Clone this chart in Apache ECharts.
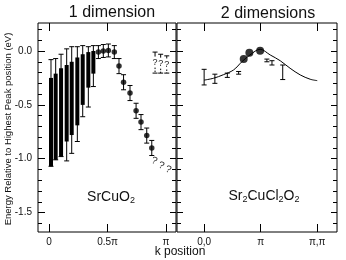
<!DOCTYPE html>
<html>
<head>
<meta charset="utf-8">
<script src="https://cdn.jsdelivr.net/npm/echarts@6/dist/echarts.min.js"></script>
<style>
  html, body { margin: 0; padding: 0; background: #fff; }
  #chart { width: 346px; height: 260px; }
</style>
</head>
<body>
<div id="chart"></div>
<script>
// ---- data ----
// left panel (1D, SrCuO2), k in units of pi
const barK = [0.017, 0.057, 0.103, 0.151, 0.194, 0.242, 0.288, 0.336, 0.379];
const barErrTop = [-0.08, -0.07, -0.03, 0.02, 0.04, 0.04, 0.05, 0.04, 0.05];
const barTop = [-0.25, -0.21, -0.16, -0.13, -0.10, -0.06, -0.03, -0.01, 0.0];
const barBottom = [-1.07, -1.01, -0.98, -0.84, -0.78, -0.69, -0.50, -0.34, -0.21];
const barErrBottom = [-1.07, -1.01, -0.98, -1.02, -0.95, -0.84, -0.61, -0.52, -0.33];

const dotK = [0.422, 0.464, 0.507, 0.558, 0.598, 0.637, 0.692, 0.744, 0.786, 0.835, 0.878];
const dotE = [-0.01, 0.0, 0.005, -0.01, -0.14, -0.29, -0.39, -0.555, -0.66, -0.785, -0.9];
const dotLow = [-0.07, -0.06, -0.055, -0.07, -0.21, -0.36, -0.46, -0.625, -0.73, -0.855, -0.97];
const dotHigh = [0.05, 0.06, 0.065, 0.05, -0.07, -0.22, -0.32, -0.485, -0.59, -0.715, -0.83];

const qK = [0.906, 0.954, 1.006];
const qHigh = [-0.01, -0.03, -0.045];
const qLow = [-0.205, -0.205, -0.205];

const tailK = [0.9, 0.96, 1.02];
const tailE = [-1.02, -1.065, -1.1];

// right panel (2D, Sr2CuCl2O2), 0 = (0,0), 1 = pi, 2 = (pi,pi)
const curveK = [0, 0.165, 0.34, 0.52, 0.667, 0.81, 0.99, 1.17, 1.345, 1.52, 1.7, 1.876, 2.0];
const curveE = [-0.27, -0.253, -0.22, -0.176, -0.1, -0.037, 0.016, -0.037, -0.09, -0.16, -0.222, -0.262, -0.275];
const bigK = [0.70, 0.80, 0.99];
const bigE = [-0.074, -0.015, 0.003];
const ebK = [0.0, 0.19, 0.41, 0.61, 1.11, 1.2, 1.39];
const ebLow = [-0.315, -0.30, -0.245, -0.215, -0.10, -0.13, -0.265];
const ebHigh = [-0.17, -0.215, -0.205, -0.19, -0.075, -0.09, -0.13];

// tick labels
const yMajor = [0, -0.5, -1.0, -1.5];
const yMinor = [0.2, 0.1, -0.1, -0.2, -0.3, -0.4, -0.6, -0.7, -0.8, -0.9, -1.1, -1.2, -1.3, -1.4, -1.6];
const xTicks1 = [0, 0.5, 1];
const xLabels1 = ['0', '0.5π', 'π'];
const xTicks2 = [0, 1, 2];
const xLabels2 = ['0,0', 'π', 'π,π'];

const FONT = 'Liberation Sans, Arial, sans-serif';
const chart = echarts.init(document.getElementById('chart'));

const xAx = (grid, pos, min, max, ticks, labels) => ({
  type: 'value', gridIndex: grid, position: pos, min: min, max: max,
  splitLine: { show: false }, axisLine: { show: false, onZero: false },
  axisTick: { show: true, inside: true, length: 8, customValues: ticks, lineStyle: { color: '#000' } },
  axisLabel: labels ? {
    show: true, customValues: ticks, margin: 5, color: '#111', fontSize: 10, fontFamily: FONT,
    formatter: (v) => labels[ticks.indexOf(v)]
  } : { show: false }
})
const yAx = (grid, pos, ticks, len, withLabel) => ({
  type: 'value', gridIndex: grid, position: pos, min: -1.68, max: 0.26,
  splitLine: { show: false }, axisLine: { show: false, onZero: false },
  axisTick: { show: true, inside: true, length: len, customValues: ticks, lineStyle: { color: '#000' } },
  axisLabel: withLabel ? {
    show: true, customValues: ticks, margin: 6, color: '#111', fontSize: 10, fontFamily: FONT,
    formatter: (v) => v.toFixed(1)
  } : { show: false }
})

// thick bar with thin error line
const renderBar = (params, api) => {
  const x = api.value(0)
  const a = api.coord([x, api.value(1)])
  const b = api.coord([x, api.value(2)])
  const c = api.coord([x, api.value(3)])
  const d = api.coord([x, api.value(4)])
  const st = { stroke: '#000', lineWidth: 1 }
  return {
    type: 'group',
    children: [
      { type: 'line', shape: { x1: a[0], y1: a[1], x2: d[0], y2: d[1] }, style: st },
      { type: 'line', shape: { x1: a[0] - 2.5, y1: a[1], x2: a[0] + 2.5, y2: a[1] }, style: st },
      { type: 'line', shape: { x1: d[0] - 2.5, y1: d[1], x2: d[0] + 2.5, y2: d[1] }, style: st },
      { type: 'rect', shape: { x: b[0] - 2, y: b[1], width: 4, height: c[1] - b[1] }, style: { fill: '#000' } }
    ]
  }
}
const renderErr = (params, api) => {
  const x = api.value(0)
  const lo = api.coord([x, api.value(1)])
  const hi = api.coord([x, api.value(2)])
  const st = { stroke: '#000', lineWidth: 1 }
  return {
    type: 'group',
    children: [
      { type: 'line', shape: { x1: lo[0], y1: lo[1], x2: hi[0], y2: hi[1] }, style: st },
      { type: 'line', shape: { x1: lo[0] - 2.5, y1: lo[1], x2: lo[0] + 2.5, y2: lo[1] }, style: st },
      { type: 'line', shape: { x1: hi[0] - 2.5, y1: hi[1], x2: hi[0] + 2.5, y2: hi[1] }, style: st }
    ]
  }
}
const renderQ = (params, api) => {
  const x = api.value(0)
  const lo = api.coord([x, api.value(1)])
  const hi = api.coord([x, api.value(2)])
  const st = { stroke: '#000', lineWidth: 1 }
  const midY = (lo[1] + hi[1]) / 2
  return {
    type: 'group',
    children: [
      { type: 'line', shape: { x1: hi[0], y1: hi[1], x2: hi[0], y2: midY - 6 }, style: st },
      { type: 'line', shape: { x1: lo[0], y1: midY + 5, x2: lo[0], y2: lo[1] }, style: { stroke: '#000', lineWidth: 1, lineDash: [1.5, 1.5] } },
      { type: 'line', shape: { x1: lo[0] - 2.5, y1: lo[1], x2: lo[0] + 2.5, y2: lo[1] }, style: st },
      { type: 'line', shape: { x1: hi[0] - 2.5, y1: hi[1], x2: hi[0] + 2.5, y2: hi[1] }, style: st },
      { type: 'text', x: hi[0], y: midY, style: { text: '?', fontSize: 9, fontFamily: FONT, fill: '#222', align: 'center', verticalAlign: 'middle' } }
    ]
  }
}
const renderTail = (params, api) => {
  const p = api.coord([api.value(0), api.value(1)])
  return {
    type: 'text', x: p[0], y: p[1], rotation: -0.35,
    style: { text: '?', fontSize: 10, fontFamily: FONT, fill: '#222', align: 'center', verticalAlign: 'middle' }
  }
}

const option = {
  animation: false,
  backgroundColor: '#fff',
  grid: [
    { left: 38, top: 23, width: 138, height: 209, show: true, borderColor: '#000', borderWidth: 1, backgroundColor: 'transparent' },
    { left: 177, top: 23, width: 160, height: 209, show: true, borderColor: '#000', borderWidth: 1, backgroundColor: 'transparent' }
  ],
  xAxis: [
    xAx(0, 'bottom', -0.094, 1.085, xTicks1, xLabels1),
    xAx(0, 'top', -0.094, 1.085, xTicks1, null),
    xAx(1, 'bottom', -0.48, 2.35, xTicks2, xLabels2),
    xAx(1, 'top', -0.48, 2.35, xTicks2, null)
  ],
  yAxis: [
    yAx(0, 'left', yMajor, 7, true),
    yAx(0, 'left', yMinor, 4, false),
    yAx(0, 'right', yMajor, 6, false),
    yAx(0, 'right', yMinor, 4, false),
    yAx(1, 'left', yMajor, 6, false),
    yAx(1, 'left', yMinor, 4, false),
    yAx(1, 'right', yMajor, 6, false),
    yAx(1, 'right', yMinor, 4, false)
  ],
  series: [
    {
      type: 'custom', xAxisIndex: 0, yAxisIndex: 0, renderItem: renderBar,
      data: barK.map((k, i) => [k, barErrTop[i], barTop[i], barBottom[i], barErrBottom[i]])
    },
    {
      type: 'custom', xAxisIndex: 0, yAxisIndex: 0, renderItem: renderErr,
      data: dotK.map((k, i) => [k, dotLow[i], dotHigh[i]])
    },
    {
      type: 'scatter', xAxisIndex: 0, yAxisIndex: 0, symbolSize: 5.5,
      itemStyle: { color: '#000' },
      data: dotK.map((k, i) => [k, dotE[i]])
    },
    {
      type: 'custom', xAxisIndex: 0, yAxisIndex: 0, renderItem: renderQ,
      data: qK.map((k, i) => [k, qLow[i], qHigh[i]])
    },
    {
      type: 'custom', xAxisIndex: 0, yAxisIndex: 0, renderItem: renderTail,
      data: tailK.map((k, i) => [k, tailE[i]])
    },
    {
      type: 'line', xAxisIndex: 2, yAxisIndex: 4, smooth: 0.35, showSymbol: false,
      lineStyle: { color: '#000', width: 1 },
      data: curveK.map((k, i) => [k, curveE[i]])
    },
    {
      type: 'custom', xAxisIndex: 2, yAxisIndex: 4, renderItem: renderErr,
      data: ebK.map((k, i) => [k, ebLow[i], ebHigh[i]])
    },
    {
      type: 'scatter', xAxisIndex: 2, yAxisIndex: 4, symbolSize: 8,
      itemStyle: { color: '#000' },
      data: bigK.map((k, i) => [k, bigE[i]])
    }
  ],
  graphic: [
    { type: 'text', x: 112, y: 13, style: { text: '1 dimension', fontSize: 16, fontFamily: FONT, fill: '#111', align: 'center', verticalAlign: 'middle' } },
    { type: 'text', x: 268, y: 14, style: { text: '2 dimensions', fontSize: 16, fontFamily: FONT, fill: '#111', align: 'center', verticalAlign: 'middle' } },
    { type: 'text', x: 8, y: 129, rotation: Math.PI / 2, style: { text: 'Energy Relative to Highest Peak position (eV)', fontSize: 9.5, fontFamily: FONT, fill: '#111', align: 'center', verticalAlign: 'middle' } },
    { type: 'text', x: 180, y: 252, style: { text: 'k position', fontSize: 12, fontFamily: FONT, fill: '#111', align: 'center', verticalAlign: 'middle' } },
    {
      type: 'text', x: 111, y: 197,
      style: {
        text: 'SrCuO{s|2}', fontSize: 14, fontFamily: FONT, fill: '#111', align: 'center', verticalAlign: 'middle',
        rich: { s: { fontSize: 9, fontFamily: FONT, fill: '#111', padding: [7, 0, 0, 0] } }
      }
    },
    {
      type: 'text', x: 264, y: 196,
      style: {
        text: 'Sr{s|2}CuCl{s|2}O{s|2}', fontSize: 14, fontFamily: FONT, fill: '#111', align: 'center', verticalAlign: 'middle',
        rich: { s: { fontSize: 9, fontFamily: FONT, fill: '#111', padding: [7, 0, 0, 0] } }
      }
    }
  ]
}
chart.setOption(option)
</script>
</body>
</html>
